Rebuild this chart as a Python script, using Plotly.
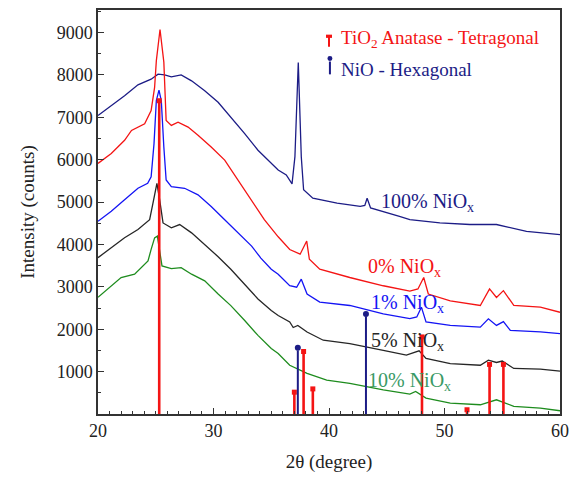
import plotly.graph_objects as go

# ---- data ----
ni100_x = [20, 21.15, 22.3, 23.46, 24.6, 25.2, 25.77, 26.35, 27.2, 28.1, 29.24, 30.4, 31.5, 32.7, 33.85, 35.0, 35.6, 36.3, 36.8, 37.05, 37.34, 37.6, 37.8, 38.6, 40.7, 42.7, 43.1, 43.3, 43.6, 46.1, 47.0, 49.6, 52.2, 54.5, 57.1, 60]
ni100_y = [7041, 7274, 7508, 7766, 7898, 8015, 8000, 7953, 8000, 7859, 7625, 7352, 7001, 6612, 6222, 5911, 5754, 5640, 5430, 6070, 8290, 6070, 5290, 5090, 4975, 4900, 4920, 5090, 4860, 4660, 4585, 4510, 4470, 4470, 4310, 4230]

ni0_x = [20, 21.15, 22.3, 22.9, 24.04, 24.6, 24.9, 25.05, 25.37, 25.7, 25.9, 26.35, 26.93, 27.8, 28.66, 29.8, 30.97, 32.1, 33.3, 34.4, 35.6, 36.6, 37.5, 38.07, 38.3, 39.2, 41.8, 44.7, 47.0, 47.7, 48.2, 48.6, 50.5, 53.1, 53.9, 54.5, 55.1, 56.0, 58.3, 60]
ni0_y = [5911, 6144, 6456, 6690, 6846, 7157, 7703, 8330, 9070, 8300, 6923, 6807, 6885, 6768, 6573, 6300, 5988, 5520, 5040, 4584, 4180, 3880, 3770, 4080, 3650, 3415, 3220, 3025, 2900, 2950, 3220, 2830, 2670, 2560, 2950, 2750, 2910, 2560, 2520, 2400]

ni1_x = [20, 21.15, 22.3, 23.46, 24.3, 24.6, 24.85, 25.05, 25.28, 25.48, 25.7, 25.9, 26.35, 27.5, 28.66, 29.8, 30.97, 32.1, 33.3, 34.1, 35.0, 35.6, 36.6, 37.2, 37.6, 38.1, 39.2, 41.8, 44.7, 47.0, 47.6, 48.0, 48.4, 50.5, 53.1, 53.8, 54.5, 55.1, 55.7, 58.3, 60]
ni1_y = [4546, 4780, 5052, 5325, 5442, 5598, 6378, 7391, 7641, 7391, 6300, 5520, 5364, 5325, 5170, 4896, 4584, 4273, 3960, 3678, 3415, 3298, 3025, 2990, 3180, 2830, 2640, 2560, 2360, 2250, 2290, 2520, 2170, 2090, 2050, 2245, 2090, 2180, 1970, 1935, 1895]

ni5_x = [20, 21.15, 22.3, 23.46, 24.47, 24.76, 25.1, 25.34, 25.63, 26.35, 27.07, 28.1, 29.24, 30.4, 31.5, 32.7, 33.85, 35.0, 35.6, 36.6, 36.9, 37.3, 38.1, 39.5, 41.8, 44.7, 46.7, 47.8, 48.4, 50.5, 53.1, 53.8, 54.5, 55.0, 56.0, 58.3, 60]
ni5_y = [3688, 3922, 4156, 4350, 4584, 4975, 5442, 5052, 4507, 4390, 4468, 4273, 4000, 3710, 3415, 3064, 2713, 2440, 2323, 2170, 2040, 2090, 1935, 1740, 1660, 1500, 1390, 1490, 1310, 1190, 1150, 1270, 1215, 1250, 1075, 1060, 1010]

ni10_x = [20, 21.15, 22.0, 23.17, 24.33, 24.6, 24.9, 25.14, 25.34, 25.54, 26.35, 27.2, 28.1, 29.24, 30.4, 31.5, 32.7, 33.85, 35.0, 35.6, 36.6, 38.1, 39.8, 41.8, 44.7, 47.0, 47.5, 48.4, 50.5, 53.1, 54.5, 56.0, 58.3, 60]
ni10_y = [2752, 3025, 3220, 3298, 3610, 3883, 4156, 4195, 3883, 3493, 3431, 3454, 3298, 3142, 2830, 2557, 2206, 1855, 1544, 1427, 1150, 960, 800, 725, 570, 470, 530, 375, 257, 218, 335, 180, 140, 77]

tio2_pos = [25.3, 37.0, 37.8, 38.6, 48.05, 51.95, 53.9, 55.1]
tio2_h = [7390, 515, 1474, 592, 1818, 100, 1170, 1170]
nio_pos = [37.3, 43.2]
nio_h = [1500, 2300]

series = [
    ("100% NiO<sub>x</sub>", ni100_x, ni100_y, "#1c1c86", "#1c1c86", 44.35, 4980),
    ("0% NiO<sub>x</sub>", ni0_x, ni0_y, "#f41414", "#f41414", 43.2, 3460),
    ("1% NiO<sub>x</sub>", ni1_x, ni1_y, "#1414f4", "#1414f4", 43.5, 2600),
    ("5% NiO<sub>x</sub>", ni5_x, ni5_y, "#262626", "#262626", 43.5, 1710),
    ("10% NiO<sub>x</sub>", ni10_x, ni10_y, "#1e8c1e", "#3a9a66", 43.2, 770),
]

FONT = "Times New Roman, Liberation Serif, serif"
fig = go.Figure()

for name, xs, ys, col, lcol, lx, ly in series:
    fig.add_trace(go.Scatter(x=xs, y=ys, mode="lines", line=dict(color=col, width=1.3),
                             showlegend=False, hoverinfo="skip"))
    fig.add_annotation(x=lx, y=ly, text=name, showarrow=False, xanchor="left",
                       yanchor="middle", font=dict(family=FONT, size=20, color=lcol))

def sticks(pos, h):
    xs, ys = [], []
    for p, v in zip(pos, h):
        xs += [p, p, None]
        ys += [0, v, None]
    return xs, ys

sx, sy = sticks(tio2_pos, tio2_h)
fig.add_trace(go.Scatter(x=sx, y=sy, mode="lines", line=dict(color="#f41414", width=2.6),
                         showlegend=False, hoverinfo="skip"))
fig.add_trace(go.Scatter(x=tio2_pos, y=tio2_h, mode="markers",
                         marker=dict(symbol="square", size=5, color="#f41414"),
                         showlegend=False, hoverinfo="skip"))
nx, ny = sticks(nio_pos, nio_h)
fig.add_trace(go.Scatter(x=nx, y=ny, mode="lines", line=dict(color="#1c1c86", width=2),
                         showlegend=False, hoverinfo="skip"))
fig.add_trace(go.Scatter(x=nio_pos, y=[v + 60 for v in nio_h], mode="markers",
                         marker=dict(symbol="circle", size=6, color="#1c1c86"),
                         showlegend=False, hoverinfo="skip"))

# legend (icons + text)
fig.add_shape(type="rect", xref="paper", yref="paper", x0=0.4935, x1=0.5065, y0=0.931, y1=0.939,
              fillcolor="#f41414", line=dict(width=0))
fig.add_shape(type="line", xref="paper", yref="paper", x0=0.5, x1=0.5, y0=0.909, y1=0.933,
              line=dict(color="#f41414", width=2))
fig.add_annotation(xref="paper", yref="paper", x=0.522, y=0.929, xanchor="left", yanchor="middle",
                   text="TiO<sub>2</sub> Anatase - Tetragonal", showarrow=False,
                   font=dict(family=FONT, size=19, color="#f41414"))
fig.add_shape(type="circle", xref="paper", yref="paper", x0=0.4966, x1=0.5074, y0=0.874, y1=0.886,
              fillcolor="#1c1c86", line=dict(width=0))
fig.add_shape(type="line", xref="paper", yref="paper", x0=0.502, x1=0.502, y0=0.8407, y1=0.8725,
              line=dict(color="#1c1c86", width=2))
fig.add_annotation(xref="paper", yref="paper", x=0.522, y=0.853, xanchor="left", yanchor="middle",
                   text="NiO - Hexagonal", showarrow=False,
                   font=dict(family=FONT, size=19, color="#1c1c86"))

axis_common = dict(showline=True, linecolor="#333333", linewidth=1.5, mirror=True,
                   ticks="inside", tickcolor="#333333", ticklen=6, tickwidth=1.2,
                   showgrid=False, zeroline=False,
                   tickfont=dict(family=FONT, size=18, color="#222222"),
                   title_font=dict(family=FONT, size=19, color="#222222"))

fig.update_xaxes(range=[20, 60], dtick=10, tick0=20, title_text="2θ (degree)",
                 minor=dict(ticks="inside", dtick=1, ticklen=3, tickcolor="#333333"),
                 title_standoff=14, **axis_common)
fig.update_yaxes(range=[0, 9530], tickvals=[1000, 2000, 3000, 4000, 5000, 6000, 7000, 8000, 9000],
                 title_text="Intensity (counts)",
                 minor=dict(ticks="inside", tickvals=[500, 1500, 2500, 3500, 4500, 5500, 6500, 7500, 8500, 9500],
                            ticklen=3, tickcolor="#333333"),
                 title_standoff=17, **axis_common)

fig.update_layout(width=577, height=477, margin=dict(l=98, r=16, t=8, b=61),
                  plot_bgcolor="white", paper_bgcolor="white", showlegend=False,
                  font=dict(family=FONT))

fig.write_html("out.html")
